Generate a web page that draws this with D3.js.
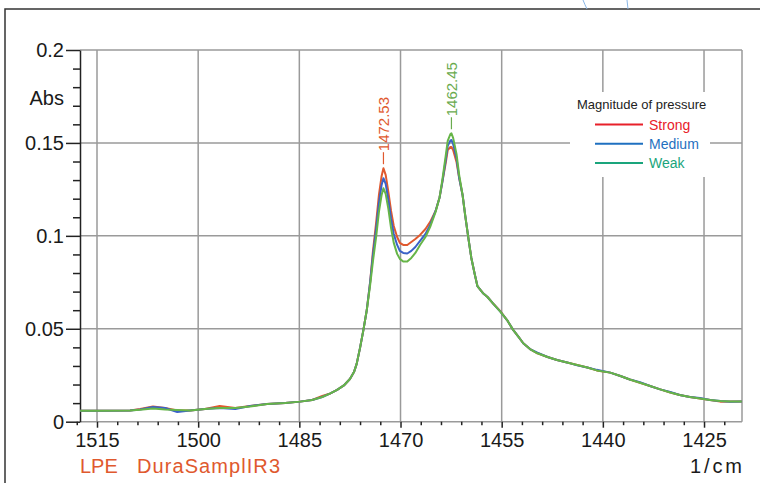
<!DOCTYPE html>
<html>
<head>
<meta charset="utf-8">
<script src="https://cdn.jsdelivr.net/npm/d3@7"></script>
<style>
body { margin: 0; background: #fff; }
svg { display: block; font-family: Arial, 'Liberation Sans', 'Noto Sans CJK JP', sans-serif; }
.grid line { stroke: #9a9a9a; stroke-width: 1.5; }
.axis text { font-size: 20px; fill: #1a1a1a; }
.axis line, .axis path { stroke: #222; stroke-width: 1.5; }
.spectrum { fill: none; stroke-width: 2; stroke-linejoin: round; }
</style>
</head>
<body>
<svg width="760" height="483"></svg>
<script>
'use strict';

// wavenumber (1/cm) and absorbance
var wavenumbers = [1517.5, 1514.6, 1510.1, 1508.6, 1506.7, 1504.9, 1503.1, 1501.2, 1499.0, 1496.8,
    1494.5, 1492.3, 1489.8, 1487.1, 1484.9, 1483.1, 1481.6, 1480.4, 1479.4, 1478.4,
    1477.5, 1476.9, 1476.5, 1476.0, 1475.5, 1475.0, 1474.5, 1474.1, 1473.6, 1473.2,
    1472.8, 1472.53, 1472.2, 1471.8, 1471.4, 1471.0, 1470.5, 1470.1, 1469.6, 1469.0,
    1468.4, 1467.8, 1467.1, 1466.3, 1465.6, 1464.8, 1464.2, 1463.8, 1463.3, 1463.0,
    1462.6, 1462.45, 1462.2, 1461.7, 1461.3, 1460.8, 1460.4, 1459.9, 1459.5, 1459.0,
    1458.6, 1457.8, 1457.1, 1456.2, 1455.2, 1454.2, 1453.3, 1452.5, 1451.8, 1450.8,
    1449.7, 1448.2, 1446.8, 1445.3, 1443.8, 1442.3, 1440.9, 1438.9, 1437.4, 1436.0,
    1434.5, 1433.0, 1431.5, 1430.0, 1428.6, 1427.1, 1425.6, 1424.1, 1422.6, 1421.1, 1419.4];

var strong = [.0059, .0059, .0060, .0068, .0082, .0074, .0060, .0060, .0068, .0085,
    .0074, .0085, .0095, .0101, .0108, .0117, .0138, .0152, .0171, .0195,
    .0230, .0267, .0311, .0397, .0494, .0601, .0752, .0913, .1075, .1220,
    .1322, .1364, .1328, .1237, .1134, .1053, .0994, .0962, .0951, .0951,
    .0967, .0983, .1005, .1037, .1075, .1134, .1208, .1289, .1392, .1462,
    .1478, .1478, .1462, .1398, .1311, .1220, .1107, .0978, .0881, .0795,
    .0730, .0693, .0671, .0633, .0595, .0547, .0494, .0456, .0422, .0391,
    .0368, .0348, .0332, .0319, .0305, .0292, .0276, .0264, .0246, .0227,
    .0210, .0192, .0174, .0157, .0144, .0133, .0125, .0117, .0108, .0109, .0109];

var medium = [.0059, .0059, .0060, .0066, .0079, .0074, .0052, .0060, .0068, .0074,
    .0068, .0085, .0095, .0101, .0108, .0117, .0133, .0152, .0171, .0195,
    .0230, .0267, .0311, .0397, .0494, .0601, .0752, .0892, .1042, .1177,
    .1274, .1310, .1280, .1193, .1091, .1010, .0951, .0919, .0908, .0905,
    .0919, .0940, .0973, .1010, .1059, .1134, .1208, .1289, .1408, .1484,
    .1513, .1516, .1494, .1419, .1311, .1220, .1107, .0978, .0881, .0795,
    .0730, .0693, .0671, .0633, .0592, .0547, .0494, .0456, .0422, .0391,
    .0371, .0348, .0332, .0319, .0303, .0292, .0279, .0264, .0246, .0227,
    .0213, .0192, .0174, .0160, .0144, .0133, .0127, .0117, .0111, .0107, .0109];

var weak = [.0059, .0059, .0060, .0064, .0071, .0066, .0063, .0060, .0068, .0074,
    .0074, .0082, .0095, .0101, .0108, .0117, .0133, .0152, .0171, .0195,
    .0230, .0267, .0311, .0397, .0494, .0601, .0736, .0860, .0999, .1129,
    .1220, .1256, .1226, .1145, .1042, .0962, .0903, .0876, .0862, .0862,
    .0881, .0908, .0951, .0994, .1048, .1129, .1208, .1301, .1430, .1511,
    .1548, .1552, .1527, .1441, .1327, .1220, .1107, .0978, .0881, .0795,
    .0730, .0693, .0671, .0633, .0592, .0547, .0494, .0456, .0422, .0391,
    .0368, .0348, .0332, .0319, .0305, .0292, .0276, .0264, .0246, .0227,
    .0210, .0192, .0174, .0157, .0144, .0133, .0125, .0117, .0111, .0109, .0109];

var seriesNames = ['Strong', 'Medium', 'Weak'];
var lineColors = ['#e0592e', '#3a62c8', '#66b548'];
var legendColors = ['#e8202a', '#1f70c0', '#1aa57c'];

var xTicks = [1515, 1500, 1485, 1470, 1455, 1440, 1425];
var yTicks = [0, 0.05, 0.1, 0.15, 0.2];
var yTickLabels = ['0', '0.05', '0.1', '0.15', '0.2'];

var peakWavenumbers = [1472.53, 1462.45];
var peakLabels = ['1472.53', '1462.45'];
var peakSeries = [0, 2];
var peakColors = ['#e0592e', '#6aab4e'];

var svg = d3.select('svg'),
    marginLeft = 80,
    marginTop = 50,
    width = 662,
    height = 371.7,
    canvas = svg.append('g').attr('transform', 'translate(' + marginLeft + ',' + marginTop + ')');

// outer frame (left and top edges only)
svg.append('path')
    .attr('d', 'M5,483L5,9L760,9')
    .attr('fill', 'none')
    .attr('stroke', '#333')
    .attr('stroke-width', 1.5);

// stray blue strokes above the frame
svg.append('path')
    .attr('d', 'M583,0Q585,5 587,9M627,0L628,9')
    .attr('fill', 'none')
    .attr('stroke', '#8ab6e6')
    .attr('stroke-width', 1);

var x = d3.scaleLinear()
    .domain([1517.52, 1419.37])
    .range([0, width]);
var y = d3.scaleLinear()
    .domain([0, 0.2])
    .range([height, 0]);

// grid
var grid = canvas.append('g').attr('class', 'grid');
grid.selectAll('.vgrid')
    .data(xTicks)
    .enter()
    .append('line')
    .attr('x1', function(d) { return x(d); })
    .attr('x2', function(d) { return x(d); })
    .attr('y1', 0)
    .attr('y2', height);
grid.selectAll('.hgrid')
    .data(yTicks.slice(1))
    .enter()
    .append('line')
    .attr('x1', 0)
    .attr('x2', width)
    .attr('y1', function(d) { return y(d); })
    .attr('y2', function(d) { return y(d); });
grid.append('line')
    .attr('x1', width).attr('x2', width)
    .attr('y1', 0).attr('y2', height);
grid.append('line')
    .attr('x1', 0).attr('x2', width)
    .attr('y1', height).attr('y2', height);

// legend box sits over the grid
var legend = svg.append('g');
legend.append('rect')
    .attr('x', 570).attr('y', 92)
    .attr('width', 140).attr('height', 85)
    .attr('fill', '#fff');
legend.append('text')
    .attr('x', 577).attr('y', 109)
    .attr('font-size', 13)
    .attr('fill', '#222')
    .text('Magnitude of pressure');
var items = legend.selectAll('.item')
    .data(seriesNames)
    .enter()
    .append('g')
    .attr('transform', function(d, i) { return 'translate(0,' + (124.5 + i * 19.2) + ')'; });
items.append('line')
    .attr('x1', 595).attr('x2', 643)
    .attr('stroke', function(d, i) { return legendColors[i]; })
    .attr('stroke-width', 2);
items.append('text')
    .attr('x', 649).attr('dy', '0.36em')
    .attr('font-size', 14)
    .attr('fill', function(d, i) { return legendColors[i]; })
    .text(function(d) { return d; });

// y axis
var yAxis = canvas.append('g').attr('class', 'axis axis--y');
yAxis.call(d3.axisLeft(y)
    .tickValues(yTicks)
    .tickSize(14)
    .tickSizeOuter(0)
    .tickPadding(2)
    .tickFormat(function(d, i) { return yTickLabels[i]; }));
canvas.append('g')
    .attr('class', 'axis')
    .call(d3.axisLeft(y)
        .tickValues(d3.range(0, 0.2, 0.01).filter(function(d) { return Math.round(d * 100) % 5 !== 0; }))
        .tickSize(7)
        .tickSizeOuter(0)
        .tickFormat(''))
    .select('.domain').remove();
canvas.append('text')
    .attr('x', -16).attr('y', 48)
    .attr('dy', '0.35em')
    .attr('text-anchor', 'end')
    .attr('font-size', 20)
    .attr('fill', '#1a1a1a')
    .text('Abs');

// x axis
var xAxis = canvas.append('g')
    .attr('class', 'axis axis--x')
    .attr('transform', 'translate(0,' + height + ')')
    .call(d3.axisBottom(x)
        .tickValues(xTicks)
        .tickSize(6)
        .tickPadding(5)
        .tickFormat(d3.format('d')));
xAxis.select('.domain').remove();
canvas.append('g')
    .attr('class', 'axis')
    .attr('transform', 'translate(0,' + height + ')')
    .call(d3.axisBottom(x)
        .tickValues(d3.range(1518, 1419, -3).filter(function(d) { return d % 15 !== 0; }))
        .tickSize(3.5)
        .tickFormat(''))
    .select('.domain').remove();

// spectra
var allSeries = [strong, medium, weak];
var line = d3.line()
    .x(function(d, i) { return x(wavenumbers[i]); })
    .y(function(d) { return y(d); });

canvas.selectAll('.spectrum')
    .data(allSeries)
    .enter()
    .append('path')
    .attr('class', 'spectrum')
    .attr('stroke', function(d, i) { return lineColors[i]; })
    .attr('d', line);

// peak markers
var peaks = canvas.selectAll('.peak')
    .data(peakWavenumbers)
    .enter()
    .append('g')
    .attr('class', 'peak')
    .attr('transform', function(d, i) {
        var v = allSeries[peakSeries[i]][wavenumbers.indexOf(d)];
        return 'translate(' + x(d) + ',' + y(v) + ')';
    });
peaks.append('line')
    .attr('y1', -4).attr('y2', -16)
    .attr('stroke', function(d, i) { return peakColors[i]; })
    .attr('stroke-width', 1.2);
peaks.append('text')
    .attr('transform', 'translate(0,-17) rotate(-90)')
    .attr('dy', '0.36em')
    .attr('font-size', 15)
    .attr('fill', function(d, i) { return peakColors[i]; })
    .text(function(d, i) { return peakLabels[i]; });

// captions
svg.append('text')
    .attr('x', 80).attr('y', 473)
    .attr('font-size', 20)
    .attr('fill', '#e0592e')
    .text('LPE');
svg.append('text')
    .attr('x', 137).attr('y', 473)
    .attr('font-size', 20)
    .attr('textLength', 143)
    .attr('fill', '#e0592e')
    .text('DuraSamplIR3');
svg.append('text')
    .attr('x', 690).attr('y', 473)
    .attr('font-size', 20)
    .attr('textLength', 52)
    .attr('fill', '#1a1a1a')
    .text('1/cm');
</script>
</body>
</html>
